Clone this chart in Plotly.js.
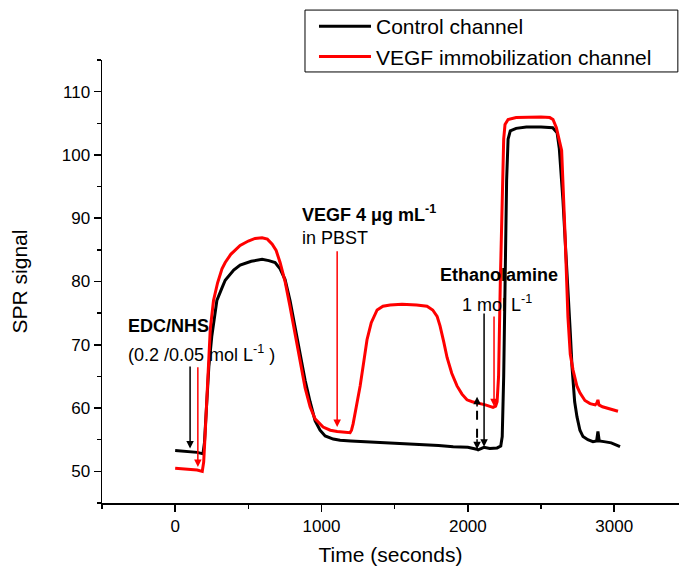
<!DOCTYPE html>
<html>
<head>
<meta charset="utf-8">
<script src="https://cdn.plot.ly/plotly-3.0.1.min.js"></script>
<style>html,body{margin:0;padding:0;background:#fff;}#chart{width:679px;height:571px;}</style>
</head>
<body>
<div id="chart"></div>
<script>
// Control channel (black)
const controlTime = [0,50,100,150,185,191,200,208,216,230,250,270,285,320,342,400,444,520,594,640,683,717,751,785,820,854,888,922,956,990,1025,1080,1127,1200,1300,1400,1500,1600,1700,1800,1900,2000,2060,2070,2090,2110,2150,2200,2225,2235,2245,2255,2265,2275,2290,2330,2400,2500,2580,2610,2625,2650,2670,2684,2700,2712,2730,2746,2766,2787,2820,2855,2880,2889,2898,2930,2980,3040];
const controlSignal = [53.3,53.2,53.1,53.0,52.8,53.0,54.5,57.5,61.3,66.5,71.3,74.8,77.0,79.0,80.2,81.8,82.6,83.2,83.5,83.3,83.0,82.0,80.3,77.0,72.5,68.3,64.4,61.0,58.0,56.5,55.6,55.1,54.9,54.8,54.7,54.6,54.5,54.4,54.2,54.1,53.9,53.8,53.5,53.4,53.6,53.8,53.6,53.7,54.0,55.5,65,82,96,102.5,103.8,104.2,104.4,104.4,104.3,103.5,101,92.8,85,79.7,72,66.5,61,58.6,56.5,55.5,55.0,54.7,54.8,56.3,54.8,54.7,54.5,53.9];

// VEGF immobilization channel (red)
const vegfTime = [0,50,100,150,185,195,205,215,225,240,262,290,320,342,380,444,500,546,594,630,663,690,717,751,785,820,854,888,922,956,1011,1060,1107,1150,1195,1205,1216,1240,1264,1290,1311,1340,1380,1420,1469,1550,1650,1721,1760,1790,1810,1835,1858,1890,1926,1960,1994,2030,2070,2120,2172,2190,2200,2210,2222,2235,2245,2254,2275,2330,2420,2500,2560,2582,2605,2625,2641,2664,2684,2700,2719,2745,2766,2800,2835,2870,2882,2889,2896,2920,2951,2990,3026];
const vegfSignal = [50.5,50.4,50.3,50.2,50.0,51.5,56.0,61.5,66.5,72.5,77.0,79.8,82.0,83.0,84.3,85.7,86.4,86.8,86.9,86.7,85.9,84.9,83.0,80.0,76.0,71.5,67.1,63.2,60.2,58.3,57.0,56.5,56.3,56.2,56.1,56.5,57.5,60.5,63.5,67.5,70.8,73.5,75.5,76.1,76.3,76.4,76.3,76.1,75.5,74.5,73.0,70.5,68.0,65.5,63.5,62.2,61.3,61.0,60.8,60.5,60.1,60.3,61.0,65,80,95,102.5,104.8,105.6,105.9,106.0,106.0,105.9,105.6,104.3,102.2,100.7,87.6,74.4,68.5,66.0,63.5,62.4,61.2,60.7,60.5,60.8,61.3,60.5,60.2,60.0,59.8,59.5];

const seriesNames = ["Control channel", "VEGF immobilization channel"];
const xTickLabels = ["0","1000","2000","3000"];
const xTickValues = [0,1000,2000,3000];
const yTickValues = [50,60,70,80,90,100,110];

const FONT = "Liberation Sans, Arial, Helvetica, sans-serif";

const traces = [
  {x: controlTime, y: controlSignal, name: seriesNames[0], type: "scatter", mode: "lines",
   line: {color: "#000000", width: 3}},
  {x: vegfTime, y: vegfSignal, name: seriesNames[1], type: "scatter", mode: "lines",
   line: {color: "#ff0000", width: 3}}
];

function label(x, y, text, bold) {
  return {x: x, y: y, xref: "x", yref: "y", text: bold ? "<b>" + text + "</b>" : text,
    showarrow: false, xanchor: "left", yanchor: "middle",
    font: {family: FONT, size: 18, color: "#000"}};
}
function arrow(x, yHead, yTail, color) {
  return {x: x, y: yHead, ax: x, ay: yTail, xref: "x", yref: "y", axref: "x", ayref: "y",
    text: "", showarrow: true, arrowhead: 2, arrowsize: 1, arrowwidth: 1.5, arrowcolor: color};
}

const annotations = [
  label(-335, 73.0, "EDC/NHS", true),
  label(-335, 68.6, "(0.2 /0.05 mol L<sup>-1</sup> )", false),
  label(854, 90.8, "VEGF 4 \u03bcg mL<sup>-1</sup>", true),
  label(854, 86.9, "in PBST", false),
  label(1796, 81.0, "Ethanolamine", true),
  label(1947, 76.6, "1 mol L<sup>-1</sup>", false),
  arrow(102, 53.6, 66.8, "#000"),
  arrow(155, 50.7, 66.7, "#ff0000"),
  arrow(1107, 57.0, 85.0, "#ff0000"),
  arrow(2111, 53.9, 75.2, "#000"),
  arrow(2179, 60.3, 74.7, "#ff0000"),
  arrow(2063, 61.8, 60.0, "#000"),
  arrow(2063, 53.5, 55.3, "#000")
];

const shapes = [
  {type: "line", xref: "x", yref: "y", x0: 2063, x1: 2063, y0: 55.3, y1: 60.0,
   line: {color: "#000", width: 2, dash: "dash"}},
  // legend frame
  {type: "rect", xref: "paper", yref: "paper", x0: 0.3518, x1: 0.998, y0: 0.973, y1: 1.1127,
   line: {color: "#000", width: 1}, fillcolor: "rgba(0,0,0,0)"}
];

const axisCommon = {
  showline: true, linecolor: "#000", linewidth: 1.5, mirror: false,
  ticks: "outside", ticklen: 7, tickwidth: 1.5, tickcolor: "#000",
  showgrid: false, zeroline: false,
  tickfont: {family: FONT, size: 17, color: "#000"}
};

const layout = {
  width: 679, height: 571,
  margin: {l: 102, r: 0, t: 60, b: 68},
  paper_bgcolor: "#fff", plot_bgcolor: "#fff",
  font: {family: FONT, color: "#000"},
  showlegend: true,
  legend: {x: 0.3674, y: 1.1218, xanchor: "left", yanchor: "top",
    borderwidth: 0, bgcolor: "rgba(0,0,0,0)",
    font: {family: FONT, size: 21, color: "#000"}, itemwidth: 52, tracegroupgap: 0},
  xaxis: Object.assign({}, axisCommon, {
    range: [-500, 3443], tickmode: "array", tickvals: xTickValues, ticktext: xTickLabels,
    minor: {dtick: 500, tick0: 0, ticks: "outside", ticklen: 4, tickwidth: 1.5, tickcolor: "#000", showgrid: false},
    title: {text: "Time (seconds)", font: {family: FONT, size: 21, color: "#000"}, standoff: 12}
  }),
  yaxis: Object.assign({}, axisCommon, {
    range: [45, 115], tickmode: "array", tickvals: yTickValues,
    minor: {dtick: 5, tick0: 0, ticks: "outside", ticklen: 4, tickwidth: 1.5, tickcolor: "#000", showgrid: false},
    title: {text: "SPR signal", font: {family: FONT, size: 21, color: "#000"}, standoff: 28}
  }),
  annotations: annotations,
  shapes: shapes
};

Plotly.newPlot("chart", traces, layout, {displayModeBar: false, staticPlot: true});
</script>
</body>
</html>
